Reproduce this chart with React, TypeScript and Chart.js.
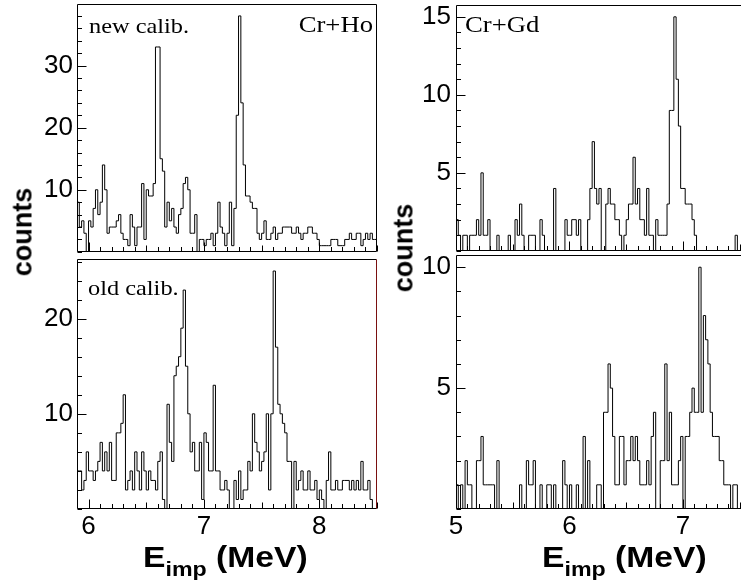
import React, { useEffect, useRef } from 'react';
import { Chart, registerables } from 'chart.js';

Chart.register(...registerables);

// ---------------- data ----------------
const BIN_WIDTH = 0.02; // MeV

const hoRange = [5.9, 8.5];
const gdRange = [5.0, 7.6];

const hoXTicks = [6, 7, 8];
const gdXTicks = [5, 6, 7];

const hoNewYTicks = [10, 20, 30];
const hoOldYTicks = [10, 20];
const gdTopYTicks = [5, 10, 15];
const gdBottomYTicks = [5, 10];

// Cr+Ho, new calibration (bins of 0.02 MeV starting at 5.90 MeV)
const hoNewCounts = [
  8, 8, 4, 5, 3, 0, 5, 4, 7, 10,
  6, 8, 14, 10, 3, 4, 4, 4, 5, 6,
  3, 2, 2, 1, 6, 4, 1, 4, 4, 11,
  2, 10, 9, 9, 11, 33, 33, 15, 13, 4,
  8, 5, 7, 4, 3, 6, 7, 11, 12, 10,
  3, 3, 6, 0, 2, 2, 1, 2, 2, 3,
  1, 3, 8, 4, 3, 1, 3, 8, 1, 7,
  22, 38, 24, 14, 9, 9, 8, 7, 7, 3,
  2, 3, 5, 2, 2, 3, 4, 2, 3, 3,
  4, 4, 4, 4, 3, 3, 4, 3, 2, 3,
  3, 4, 4, 3, 3, 2, 1, 1, 1, 1,
  1, 2, 2, 2, 1, 1, 1, 2, 2, 3,
  2, 2, 3, 3, 1, 2, 3, 2, 3, 2,
];

// Cr+Ho, old calibration
const hoOldCounts = [
  2, 4, 4, 2, 3, 6, 4, 4, 3, 4,
  5, 7, 4, 6, 4, 7, 3, 3, 8, 8,
  9, 12, 2, 3, 4, 2, 6, 4, 2, 6,
  4, 2, 4, 3, 3, 2, 5, 6, 1, 0,
  11, 7, 5, 14, 15, 16, 19, 23, 15, 10,
  6, 7, 4, 4, 7, 1, 8, 7, 4, 4,
  13, 4, 4, 2, 2, 3, 2, 0, 0, 3,
  1, 4, 1, 2, 2, 5, 4, 10, 7, 6,
  4, 5, 6, 10, 2, 10, 25, 17, 11, 10,
  9, 8, 5, 5, 0, 5, 2, 3, 4, 2,
  2, 4, 2, 2, 3, 1, 2, 1, 0, 3,
  6, 2, 2, 3, 2, 2, 3, 3, 3, 2,
  3, 2, 3, 2, 5, 2, 2, 3, 1, 0,
];

// Cr+Gd, upper panel (bins of 0.02 MeV starting at 5.00 MeV)
const gdTopCounts = [
  2, 2, 1, 0, 1, 1, 0, 1, 1, 1,
  2, 1, 5, 1, 1, 2, 0, 0, 0, 1,
  0, 0, 0, 0, 1, 0, 0, 2, 1, 3,
  1, 0, 0, 1, 1, 1, 0, 0, 2, 1,
  0, 0, 0, 0, 4, 0, 0, 0, 0, 2,
  1, 1, 2, 2, 1, 2, 0, 0, 0, 2,
  4, 7, 4, 3, 4, 0, 0, 3, 4, 3,
  3, 2, 2, 1, 0, 1, 2, 3, 3, 6,
  3, 4, 2, 2, 1, 4, 1, 1, 0, 2,
  1, 1, 1, 1, 3, 9, 9, 15, 11, 8,
  4, 4, 3, 3, 3, 2, 1, 0, 0, 0,
  0, 0, 0, 0, 0, 0, 0, 0, 0, 0,
  0, 0, 0, 0, 1, 0, 0, 0, 0, 0,
];

// Cr+Gd, lower panel
const gdBottomCounts = [
  1, 1, 0, 1, 0, 2, 1, 1, 0, 0,
  2, 2, 3, 1, 1, 1, 1, 1, 0, 2,
  0, 0, 0, 0, 0, 0, 0, 0, 0, 1,
  0, 0, 2, 1, 1, 2, 0, 0, 1, 0,
  0, 1, 1, 0, 1, 0, 0, 0, 2, 1,
  0, 1, 0, 0, 1, 0, 0, 3, 0, 2,
  0, 0, 0, 1, 1, 0, 4, 4, 6, 5,
  3, 1, 1, 3, 3, 1, 2, 2, 3, 2,
  3, 2, 1, 1, 1, 2, 1, 3, 4, 0,
  0, 2, 2, 6, 2, 4, 1, 1, 1, 2,
  3, 0, 3, 3, 4, 5, 4, 4, 10, 4,
  8, 7, 6, 4, 3, 3, 3, 2, 2, 1,
  1, 1, 0, 1, 1, 0, 0, 0, 0, 0,
];

// ---------------- drawing helpers ----------------
const TICK_FONT = { family: "'Liberation Sans', Arial, sans-serif", size: 26 };

const rootFrame = {
  id: 'rootFrame',
  afterDatasetsDraw(chart: any, _args: any, opts: any) {
    const { ctx, chartArea: a } = chart;
    const xs = chart.scales.x;
    const ys = chart.scales.y;
    const L = Math.round(a.left) + 0.5;
    const R = Math.round(a.right) - 0.5;
    const T = Math.round(a.top) + 0.5;
    const B = Math.round(a.bottom) - 0.5;
    ctx.save();
    ctx.lineWidth = 1;
    ctx.strokeStyle = '#000';
    ctx.beginPath();
    // y ticks (inward from the left frame)
    const yMajor = ys.ticks.map((t: any) => t.value);
    const ny0 = Math.ceil(ys.min / opts.yMinor - 1e-6);
    const ny1 = Math.floor(ys.max / opts.yMinor + 1e-6);
    for (let k = ny0; k <= ny1; k++) {
      const v = k * opts.yMinor;
      const major = yMajor.some((m: number) => Math.abs(m - v) < 1e-6);
      const p = Math.round(ys.getPixelForValue(v)) + 0.5;
      ctx.moveTo(L, p);
      ctx.lineTo(L + (major ? opts.majorLen : opts.minorLen), p);
    }
    // x ticks (inward from the bottom frame)
    const xMajor = xs.ticks.map((t: any) => t.value);
    const nx0 = Math.ceil(xs.min / opts.xMinor - 1e-6);
    const nx1 = Math.floor(xs.max / opts.xMinor + 1e-6);
    for (let k = nx0; k <= nx1; k++) {
      const v = k * opts.xMinor;
      const major = xMajor.some((m: number) => Math.abs(m - v) < 1e-6);
      const mid = Math.abs(v / opts.xMid - Math.round(v / opts.xMid)) < 1e-6;
      const len = major ? opts.majorLen : mid ? opts.midLen : opts.minorLen;
      const p = Math.round(xs.getPixelForValue(v)) + 0.5;
      ctx.moveTo(p, B);
      ctx.lineTo(p, B - len);
    }
    ctx.stroke();
    // frame
    ctx.beginPath();
    ctx.moveTo(R, T);
    ctx.lineTo(L, T);
    ctx.lineTo(L, B);
    ctx.lineTo(R, B);
    ctx.stroke();
    ctx.beginPath();
    ctx.strokeStyle = opts.rightColor;
    ctx.moveTo(R, T);
    ctx.lineTo(R, B);
    ctx.stroke();
    // in-panel labels (serif, slightly widened like the original figure)
    ctx.fillStyle = '#000';
    ctx.textBaseline = 'alphabetic';
    for (const lab of opts.labels || []) {
      ctx.save();
      const x = lab.align === 'right' ? a.right + lab.dx : a.left + lab.dx;
      ctx.translate(x, a.top + lab.dy);
      ctx.scale(1.16, 1);
      ctx.font = `${lab.size}px 'Liberation Serif', 'Times New Roman', serif`;
      ctx.textAlign = lab.align;
      ctx.fillText(lab.text, 0, 0);
      ctx.restore();
    }
    ctx.restore();
  },
};

type PanelCfg = {
  counts: number[];
  range: number[];
  xTicks: number[];
  showXLabels: boolean;
  yMax: number;
  yTicks: number[];
  yMinor: number;
  box: { left: number; top: number; width: number; height: number };
  padTop: number;
  padRight: number;
  yAxisWidth: number;
  xAxisHeight: number;
  labelPad: number;
  rightColor: string;
  labels: { text: string; align: string; dx: number; dy: number; size: number }[];
};

const panels: PanelCfg[] = [
  {
    counts: hoNewCounts, range: hoRange, xTicks: hoXTicks, showXLabels: false,
    yMax: 39.9, yTicks: hoNewYTicks, yMinor: 2,
    box: { left: 0, top: 0, width: 380, height: 256 },
    padTop: 4, padRight: 3, yAxisWidth: 77, xAxisHeight: 2, labelPad: 4,
    rightColor: '#000',
    labels: [
      { text: 'new calib.', align: 'left', dx: 12, dy: 29, size: 21 },
      { text: 'Cr+Ho', align: 'right', dx: -4, dy: 28, size: 23 },
    ],
  },
  {
    counts: hoOldCounts, range: hoRange, xTicks: hoXTicks, showXLabels: true,
    yMax: 26.25, yTicks: hoOldYTicks, yMinor: 2,
    box: { left: 0, top: 255, width: 380, height: 300 },
    padTop: 2, padRight: 3, yAxisWidth: 77, xAxisHeight: 46, labelPad: 4,
    rightColor: '#7a1010',
    labels: [{ text: 'old calib.', align: 'left', dx: 11, dy: 36, size: 21 }],
  },
  {
    counts: gdTopCounts, range: gdRange, xTicks: gdXTicks, showXLabels: false,
    yMax: 15.75, yTicks: gdTopYTicks, yMinor: 1,
    box: { left: 380, top: 0, width: 375, height: 256 },
    padTop: 4, padRight: 4, yAxisWidth: 76, xAxisHeight: 3, labelPad: 5,
    rightColor: '#000',
    labels: [{ text: 'Cr+Gd', align: 'left', dx: 9, dy: 27, size: 23 }],
  },
  {
    counts: gdBottomCounts, range: gdRange, xTicks: gdXTicks, showXLabels: true,
    yMax: 10.5, yTicks: gdBottomYTicks, yMinor: 1,
    box: { left: 380, top: 250, width: 375, height: 305 },
    padTop: 3, padRight: 4, yAxisWidth: 76, xAxisHeight: 46, labelPad: 5,
    rightColor: '#000',
    labels: [],
  },
];

function Panel({ cfg }: { cfg: PanelCfg }) {
  const ref = useRef<HTMLCanvasElement | null>(null);
  useEffect(() => {
    const canvas = ref.current;
    if (!canvas) return;
    const n = cfg.counts.length;
    const pts: { x: number; y: number }[] = [];
    for (let i = 0; i <= n; i++) {
      pts.push({ x: cfg.range[0] + i * BIN_WIDTH, y: cfg.counts[Math.min(i, n - 1)] });
    }
    const chart = new Chart(canvas, {
      type: 'line',
      data: {
        datasets: [
          {
            data: pts,
            stepped: 'after',
            borderColor: '#000',
            borderWidth: 1,
            pointRadius: 0,
            fill: false,
          } as any,
        ],
      },
      options: {
        animation: false,
        responsive: false,
        devicePixelRatio: 1,
        layout: { padding: { top: cfg.padTop, right: cfg.padRight, left: 0, bottom: 0 } },
        plugins: {
          legend: { display: false },
          tooltip: { enabled: false },
          rootFrame: {
            xMinor: 0.1, xMid: 0.5, yMinor: cfg.yMinor,
            majorLen: 9, midLen: 6, minorLen: 4.5,
            rightColor: cfg.rightColor, labels: cfg.labels,
          },
        } as any,
        scales: {
          x: {
            type: 'linear',
            min: cfg.range[0],
            max: cfg.range[1],
            grid: { display: false, drawTicks: false },
            border: { display: false },
            ticks: {
              display: cfg.showXLabels,
              autoSkip: false,
              maxRotation: 0,
              padding: 2,
              color: '#000',
              font: { ...TICK_FONT, lineHeight: 1.2 },
              callback: (v: any) => String(v),
            },
            afterBuildTicks: (s: any) => {
              s.ticks = cfg.xTicks.map((v) => ({ value: v }));
            },
            afterFit: (s: any) => {
              s.height = cfg.xAxisHeight;
            },
          },
          y: {
            type: 'linear',
            min: 0,
            max: cfg.yMax,
            grid: { display: false, drawTicks: false },
            border: { display: false },
            ticks: {
              autoSkip: false,
              padding: cfg.labelPad,
              color: '#000',
              font: { ...TICK_FONT, lineHeight: 0.01 },
              callback: (v: any) => String(v),
            },
            afterBuildTicks: (s: any) => {
              s.ticks = cfg.yTicks.map((v) => ({ value: v }));
            },
            afterFit: (s: any) => {
              s.width = cfg.yAxisWidth;
            },
          },
        } as any,
      },
      plugins: [rootFrame as any],
    });
    return () => chart.destroy();
  }, [cfg]);
  return (
    <canvas
      ref={ref}
      width={cfg.box.width}
      height={cfg.box.height}
      style={{
        position: 'absolute',
        left: cfg.box.left,
        top: cfg.box.top,
        width: cfg.box.width,
        height: cfg.box.height,
      }}
    />
  );
}

function CountsTitle({ cx, cy }: { cx: number; cy: number }) {
  return (
    <div
      style={{
        position: 'absolute',
        left: cx,
        top: cy,
        transform: 'translate(-50%, -50%) rotate(-90deg)',
        font: "bold 27px 'Liberation Sans', Arial, sans-serif",
        lineHeight: '27px',
        whiteSpace: 'nowrap',
        color: '#000',
      }}
    >
      counts
    </div>
  );
}

function EnergyTitle({ left }: { left: number }) {
  return (
    <div
      style={{
        position: 'absolute',
        left,
        top: 543,
        font: "bold 29px 'Liberation Sans', Arial, sans-serif",
        lineHeight: '29px',
        transform: 'scaleX(1.16)',
        transformOrigin: 'left top',
        whiteSpace: 'nowrap',
        color: '#000',
      }}
    >
      E<span style={{ fontSize: 20, lineHeight: '20px', verticalAlign: -9 }}>imp</span> (MeV)
    </div>
  );
}

export default function App() {
  return (
    <div
      style={{
        position: 'absolute',
        left: 0,
        top: 0,
        width: 741,
        height: 585,
        overflow: 'hidden',
        background: '#fff',
      }}
    >
      {panels.map((p, i) => (
        <Panel key={i} cfg={p} />
      ))}
      <CountsTitle cx={23} cy={232} />
      <CountsTitle cx={404} cy={248} />
      <EnergyTitle left={143} />
      <EnergyTitle left={542} />
    </div>
  );
}
